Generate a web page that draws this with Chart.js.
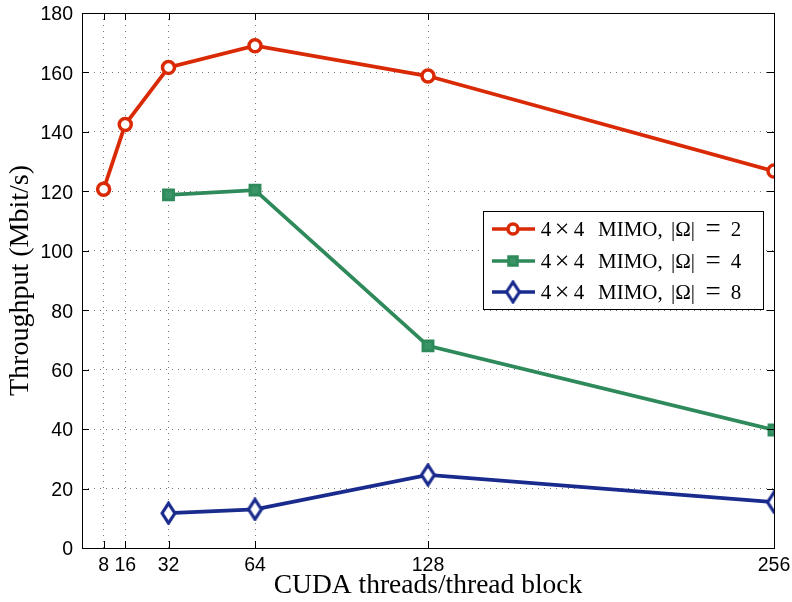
<!DOCTYPE html>
<html lang="en">
<head>
<meta charset="utf-8">
<title>Throughput vs CUDA threads</title>
<script src="https://cdn.jsdelivr.net/npm/chart.js@4.4.0/dist/chart.umd.min.js"></script>
<style>
  html, body { margin: 0; padding: 0; background: #fff; }
  #wrap { width: 792px; height: 602px; }
</style>
</head>
<body>
<div id="wrap"><canvas id="myChart" width="792" height="602"></canvas></div>
<script>
// threads per block (x) and measured throughput in Mbit/s
const threadsOmega2 = [8, 16, 32, 64, 128, 256];
const tputOmega2 = [120.7, 142.5, 161.7, 169.0, 158.8, 126.8];
const threadsOmega4 = [32, 64, 128, 256];
const tputOmega4 = [118.8, 120.4, 68.0, 39.7];
const threadsOmega8 = [32, 64, 128, 256];
const tputOmega8 = [11.7, 13.0, 24.6, 15.4];
const xTickValues = [8, 16, 32, 64, 128, 256];
// legend text pieces: "4 x 4 MIMO, |Omega| = n"
const omegaSizes = ['2', '4', '8'];

const RED = '#d92a05';
const GREEN = '#2e8a5a';
const BLUE = '#1a2b8e';

function pts(xs, ys) {
  return xs.map((x, i) => ({ x: x, y: ys[i] }));
}

// tall open diamond marker (matlab style)
function diamondMarker(w, h, lw, color) {
  const c = document.createElement('canvas');
  c.width = w; c.height = h;
  const g = c.getContext('2d');
  const p = lw / 2 + 0.5;
  g.beginPath();
  g.moveTo(w / 2, p);
  g.lineTo(w - p, h / 2);
  g.lineTo(w / 2, h - p);
  g.lineTo(p, h / 2);
  g.closePath();
  g.fillStyle = '#fff';
  g.fill();
  g.lineWidth = lw;
  g.lineJoin = 'miter';
  g.strokeStyle = color;
  g.stroke();
  return c;
}
const diamond = diamondMarker(17, 24, 3.2, BLUE);

function drawLegendLabel(ctx, x0, y, n) {
  ctx.textBaseline = 'middle';
  ctx.fillStyle = '#000';
  // [text, anchor x relative to x0, alignment, font size]
  const parts = [
    ['4', 6, 'center', 21],
    ['\u00d7', 22, 'center', 26],
    ['4', 39, 'center', 21],
    ['MIMO,', 58, 'left', 21],
    ['|\u03a9|', 143, 'center', 21],
    ['=', 173, 'center', 27],
    [n, 196, 'center', 21]
  ];
  parts.forEach(p => {
    ctx.font = p[3] + 'px "Liberation Serif"';
    ctx.textAlign = p[2];
    ctx.fillText(p[0], x0 + p[1], y);
  });
}

// box, inward ticks on all four sides, and the legend panel
const framePlugin = {
  id: 'frame',
  afterDraw(chart) {
    const ctx = chart.ctx;
    const a = chart.chartArea;
    const xs = chart.scales.x, ys = chart.scales.y;
    ctx.save();
    ctx.strokeStyle = '#000';
    ctx.lineWidth = 1;
    ctx.setLineDash([]);
    ctx.strokeRect(Math.round(a.left) + 0.5, Math.round(a.top) + 0.5,
      Math.round(a.right - a.left), Math.round(a.bottom - a.top));
    const tl = 7;
    ctx.beginPath();
    xTickValues.forEach(v => {
      const px = Math.round(xs.getPixelForValue(v)) + 0.5;
      ctx.moveTo(px, a.bottom); ctx.lineTo(px, a.bottom - tl);
      ctx.moveTo(px, a.top); ctx.lineTo(px, a.top + tl);
    });
    ys.ticks.forEach(t => {
      const py = Math.round(ys.getPixelForValue(t.value)) + 0.5;
      ctx.moveTo(a.left, py); ctx.lineTo(a.left + tl, py);
      ctx.moveTo(a.right, py); ctx.lineTo(a.right - tl, py);
    });
    ctx.stroke();

    // legend
    const lx = 483, ly = 211, lw = 280, lh = 98;
    ctx.fillStyle = '#fff';
    ctx.fillRect(lx, ly, lw, lh);
    ctx.strokeStyle = '#000';
    ctx.lineWidth = 1;
    ctx.strokeRect(lx + 0.5, ly + 0.5, lw, lh);
    const rows = [229, 261, 292];
    chart.data.datasets.forEach((ds, i) => {
      const y = rows[i];
      ctx.strokeStyle = ds.borderColor;
      ctx.lineWidth = 3.5;
      ctx.beginPath();
      ctx.moveTo(492, y); ctx.lineTo(535, y);
      ctx.stroke();
      ctx.fillStyle = ds.pointBackgroundColor;
      ctx.lineWidth = ds.pointBorderWidth;
      Chart.helpers.drawPoint(ctx, {
        pointStyle: ds.pointStyle,
        radius: ds.pointRadius - 1,
        borderWidth: ds.pointBorderWidth
      }, 513, y);
      drawLegendLabel(ctx, 540, y + 1, omegaSizes[i]);
    });
    ctx.restore();
  }
};

const data = {
  datasets: [
    {
      label: '4 \u00d7 4 MIMO, |\u03a9| = ' + omegaSizes[0],
      data: pts(threadsOmega2, tputOmega2),
      borderColor: RED,
      backgroundColor: RED,
      pointBackgroundColor: '#fff',
      pointStyle: 'circle',
      pointRadius: 6,
      pointBorderWidth: 3.5
    },
    {
      label: '4 \u00d7 4 MIMO, |\u03a9| = ' + omegaSizes[1],
      data: pts(threadsOmega4, tputOmega4),
      borderColor: GREEN,
      backgroundColor: GREEN,
      pointBackgroundColor: '#3a9467',
      pointStyle: 'rect',
      pointRadius: 7,
      pointBorderWidth: 3
    },
    {
      label: '4 \u00d7 4 MIMO, |\u03a9| = ' + omegaSizes[2],
      data: pts(threadsOmega8, tputOmega8),
      borderColor: BLUE,
      backgroundColor: BLUE,
      pointBackgroundColor: '#fff',
      pointStyle: diamond,
      pointRadius: 9,
      pointBorderWidth: 3
    }
  ]
};

const gridStyle = {
  color: '#777',
  lineWidth: 1,
  drawTicks: false
};

const config = {
  type: 'scatter',
  data: data,
  options: {
    responsive: false,
    animation: false,
    showLine: true,
    borderWidth: 3.8,
    layout: { padding: { left: 0, top: 13, right: 18, bottom: 0 } },
    elements: { line: { tension: 0 } },
    scales: {
      x: {
        type: 'linear',
        min: 0,
        max: 256,
        afterBuildTicks: s => { s.ticks = xTickValues.map(v => ({ value: v })); },
        afterFit: s => {
          s.height = 54;
          s.paddingLeft = 0;
          s.paddingRight = 0;
        },
        grid: gridStyle,
        border: { display: false, dash: [1, 5] },
        ticks: {
          color: '#000',
          font: { family: 'Liberation Sans', size: 19.5 },
          padding: 6,
          maxRotation: 0,
          autoSkip: false
        },
        title: {
          display: true,
          text: 'CUDA threads/thread block',
          color: '#000',
          font: { family: 'Liberation Serif', size: 27.5 },
          padding: { top: 0, bottom: 0 }
        }
      },
      y: {
        min: 0,
        max: 180,
        afterFit: s => {
          s.width = 82;
          s.paddingTop = 0;
          s.paddingBottom = 0;
        },
        grid: gridStyle,
        border: { display: false, dash: [1, 5] },
        ticks: {
          stepSize: 20,
          color: '#000',
          font: { family: 'Liberation Sans', size: 19.5 },
          padding: 9,
          labelOffset: 2
        },
        title: {
          display: true,
          text: 'Throughput (Mbit/s)',
          color: '#000',
          font: { family: 'Liberation Serif', size: 28 },
          padding: { top: 4, bottom: 0 }
        }
      }
    },
    plugins: {
      legend: { display: false },
      tooltip: { enabled: false }
    }
  },
  plugins: [framePlugin]
};

const myChart = new Chart(document.getElementById('myChart'), config);
</script>
</body>
</html>
